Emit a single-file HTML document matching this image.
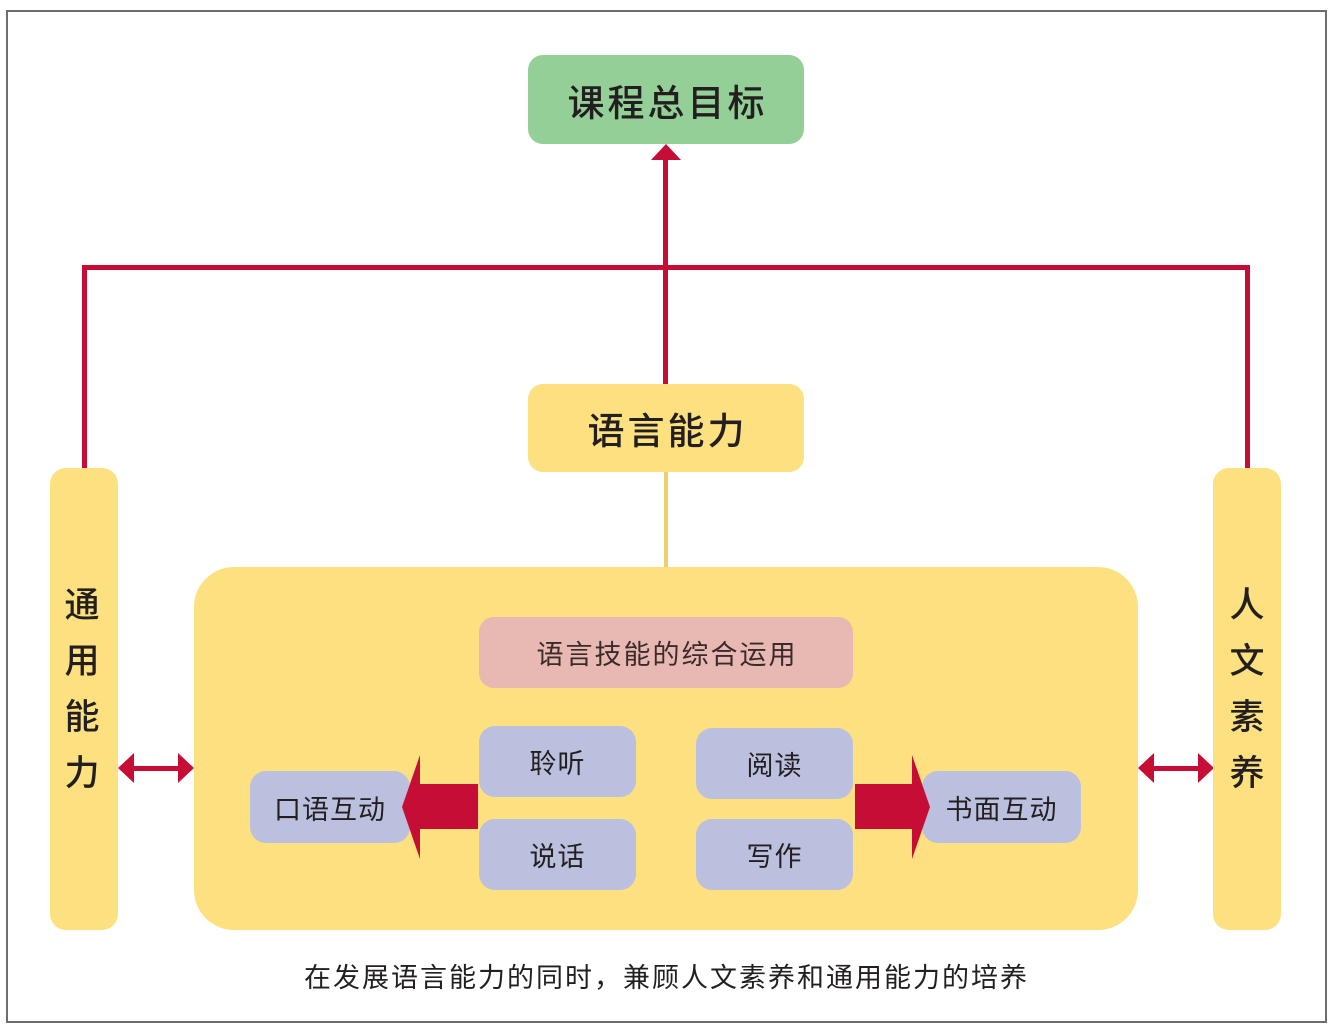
<!DOCTYPE html>
<html><head><meta charset="utf-8"><style>
body{margin:0;width:1333px;height:1032px;background:#fff;position:relative;overflow:hidden;font-family:"Liberation Sans","Noto Sans CJK SC",sans-serif;color:#231f20}
.a{position:absolute;box-sizing:border-box}
.t{display:flex;align-items:center;justify-content:center}
.v{position:absolute;font-size:35px;font-weight:500;width:68px;text-align:center;line-height:56px}
.s{background:#bcc0df;border-radius:16px;font-size:27px;letter-spacing:1px}
</style></head><body>
<div class="a" style="left:6px;top:10px;width:1321px;height:1013px;border:2px solid #6d6d6d"></div>
<svg class="a" style="left:0;top:0" width="1333" height="1032">
<g fill="#c60d36">
<rect x="82" y="265" width="1168" height="5"/>
<rect x="82" y="265" width="5" height="205"/>
<rect x="1245" y="265" width="5" height="205"/>
<rect x="663" y="158" width="5" height="228"/>
<polygon points="651,160 666,144 681,160"/>
<rect x="132" y="766" width="48" height="5"/>
<polygon points="118,768 134,753 134,783"/>
<polygon points="194,768 178,753 178,783"/>
<rect x="1152" y="766" width="48" height="5"/>
<polygon points="1138,768 1154,753 1154,783"/>
<polygon points="1214,768 1198,753 1198,783"/>
</g>
<rect x="664" y="470" width="4" height="100" fill="#ecd070"/>
</svg>
<div class="a t" style="left:528px;top:55px;width:276px;height:89px;background:#93cf96;border-radius:15px;font-size:37px;font-weight:500;letter-spacing:3px;padding-left:3px">课程总目标</div>
<div class="a t" style="left:528px;top:384px;width:276px;height:88px;background:#fde07f;border-radius:15px;font-size:37px;font-weight:500;letter-spacing:3px;padding-left:3px">语言能力</div>
<div class="a" style="left:50px;top:468px;width:68px;height:462px;background:#fde07f;border-radius:16px"></div>
<div class="a" style="left:1213px;top:468px;width:68px;height:462px;background:#fde07f;border-radius:16px"></div>
<div class="v" style="left:48px;top:578px">通<br>用<br>能<br>力</div>
<div class="v" style="left:1213px;top:578px">人<br>文<br>素<br>养</div>
<div class="a" style="left:194px;top:567px;width:944px;height:363px;background:#fde07f;border-radius:40px"></div>
<div class="a t" style="left:479px;top:617px;width:374px;height:71px;background:#e8b8b3;border-radius:15px;font-size:27px;color:#3a2a2a;letter-spacing:2px;padding-left:2px">语言技能的综合运用</div>
<div class="a t s" style="left:479px;top:726px;width:157px;height:71px">聆听</div>
<div class="a t s" style="left:479px;top:819px;width:157px;height:71px">说话</div>
<div class="a t s" style="left:696px;top:728px;width:157px;height:71px">阅读</div>
<div class="a t s" style="left:696px;top:819px;width:157px;height:71px">写作</div>
<div class="a t s" style="left:250px;top:771px;width:160px;height:72px">口语互动</div>
<div class="a t s" style="left:922px;top:771px;width:159px;height:72px">书面互动</div>
<svg class="a" style="left:0;top:0" width="1333" height="1032">
<g fill="#c60d36">
<rect x="418" y="784" width="60" height="45"/>
<polygon points="402,807 420,755 420,859"/>
<rect x="855" y="784" width="60" height="45"/>
<polygon points="930,807 912,755 912,859"/>
</g>
</svg>
<div class="a t" style="left:200px;top:955px;width:933px;height:40px;font-size:27px;letter-spacing:2px">在发展语言能力的同时，兼顾人文素养和通用能力的培养</div>
</body></html>
